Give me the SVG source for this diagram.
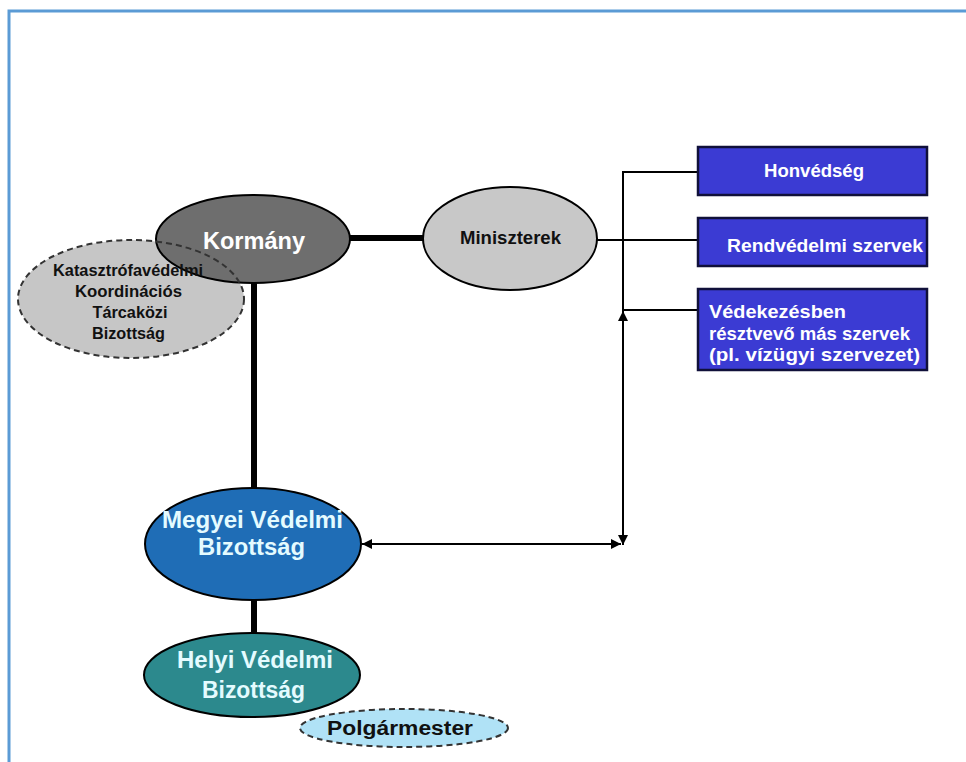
<svg xmlns="http://www.w3.org/2000/svg" width="966" height="762" viewBox="0 0 966 762">
<defs>
<style>
text{font-family:"Liberation Sans",Arial,sans-serif;font-weight:bold;}
.c{text-anchor:middle;}
.thin{stroke:#000;stroke-width:2;fill:none;}
.thick{stroke:#000;stroke-width:6;fill:none;}
.box{fill:#3b3bd3;stroke:#10103a;stroke-width:2.5;}
.wt{fill:#ffffff;}
.lt{fill:#e4fbff;}
.bk{fill:#111;}
</style>
<marker id="ah" viewBox="0 0 10 10" refX="10" refY="5" markerWidth="10" markerHeight="10" markerUnits="userSpaceOnUse" orient="auto-start-reverse">
<path d="M0,0 L10,5 L0,10 z" fill="#000"/>
</marker>
</defs>
<rect width="966" height="762" fill="#fff"/>
<path d="M9,762 V11 H966" fill="none" stroke="#5b9bd5" stroke-width="3"/>

<g id="connectors">
<line class="thick" x1="345" y1="238" x2="426" y2="238"/>
<line class="thick" x1="254" y1="279" x2="254" y2="491"/>
<line class="thick" x1="254" y1="598" x2="254" y2="636"/>
<line class="thin" x1="596" y1="240" x2="699" y2="240"/>
<polyline class="thin" points="699,172 623,172 623,310 699,310"/>
<line class="thin" x1="623" y1="311" x2="623" y2="545" marker-start="url(#ah)" marker-end="url(#ah)"/>
<line class="thin" x1="362" y1="544" x2="621" y2="544" marker-start="url(#ah)" marker-end="url(#ah)"/>
</g>

<g id="kktb-fill">
<ellipse cx="131" cy="299" rx="113" ry="59" fill="#c6c6c6"/>
</g>
<g id="kormany">
<ellipse cx="253" cy="239" rx="97" ry="44" fill="#6e6e6e" stroke="#000" stroke-width="2"/>
</g>
<g id="kktb">
<ellipse cx="131" cy="299" rx="113" ry="59" fill="none" stroke="#333" stroke-width="2" stroke-dasharray="6,4"/>
<text class="c bk" x="128" y="276" font-size="16" textLength="150" lengthAdjust="spacingAndGlyphs">Katasztrófavédelmi</text>
<text class="c bk" x="128.5" y="297" font-size="16" textLength="107" lengthAdjust="spacingAndGlyphs">Koordinációs</text>
<text class="c bk" x="130" y="318" font-size="16" textLength="75" lengthAdjust="spacingAndGlyphs">Tárcaközi</text>
<text class="c bk" x="128.5" y="339" font-size="16" textLength="73" lengthAdjust="spacingAndGlyphs">Bizottság</text>
</g>
<g id="kormany-label">
<text class="c wt" x="254" y="249" font-size="23" textLength="102" lengthAdjust="spacingAndGlyphs">Kormány</text>
</g>

<g id="miniszterek">
<ellipse cx="510" cy="238.5" rx="87" ry="51.5" fill="#c8c8c8" stroke="#000" stroke-width="2"/>
<text class="c bk" x="510.5" y="244" font-size="18.5" textLength="101" lengthAdjust="spacingAndGlyphs">Miniszterek</text>
</g>

<g id="honvedseg">
<rect class="box" x="698" y="147" width="229" height="48"/>
<text class="c wt" x="814" y="177" font-size="17.5" textLength="100" lengthAdjust="spacingAndGlyphs">Honvédség</text>
</g>
<g id="rendvedelmi">
<rect class="box" x="698" y="218" width="229" height="48"/>
<text class="c wt" x="825" y="252" font-size="18.5" textLength="196" lengthAdjust="spacingAndGlyphs">Rendvédelmi szervek</text>
</g>
<g id="vedekezes">
<rect class="box" x="698" y="289" width="229" height="81"/>
<text class="wt" x="709" y="318" font-size="17.5" textLength="137" lengthAdjust="spacingAndGlyphs">Védekezésben</text>
<text class="wt" x="709" y="340" font-size="17.5" textLength="201" lengthAdjust="spacingAndGlyphs">résztvevő más szervek</text>
<text class="wt" x="709" y="361" font-size="17.5" textLength="211" lengthAdjust="spacingAndGlyphs">(pl. vízügyi szervezet)</text>
</g>

<g id="megyei">
<ellipse cx="253" cy="544" rx="108" ry="56" fill="#1f6db6" stroke="#000" stroke-width="2"/>
<text class="c lt" x="252.5" y="528" font-size="23" textLength="181" lengthAdjust="spacingAndGlyphs">Megyei Védelmi</text>
<text class="c lt" x="251.5" y="555" font-size="23" textLength="107" lengthAdjust="spacingAndGlyphs">Bizottság</text>
</g>

<g id="helyi">
<ellipse cx="252" cy="675" rx="108" ry="42" fill="#2c898d" stroke="#000" stroke-width="2"/>
<text class="c lt" x="255" y="668" font-size="23" textLength="156" lengthAdjust="spacingAndGlyphs">Helyi Védelmi</text>
<text class="c lt" x="253.5" y="698" font-size="23" textLength="103" lengthAdjust="spacingAndGlyphs">Bizottság</text>
</g>

<g id="polgarmester">
<ellipse cx="404" cy="728" rx="104" ry="19" fill="#b0e2f6" stroke="#333" stroke-width="2" stroke-dasharray="6,4"/>
<text class="c bk" x="400" y="735" font-size="20" textLength="146" lengthAdjust="spacingAndGlyphs">Polgármester</text>
</g>
</svg>
